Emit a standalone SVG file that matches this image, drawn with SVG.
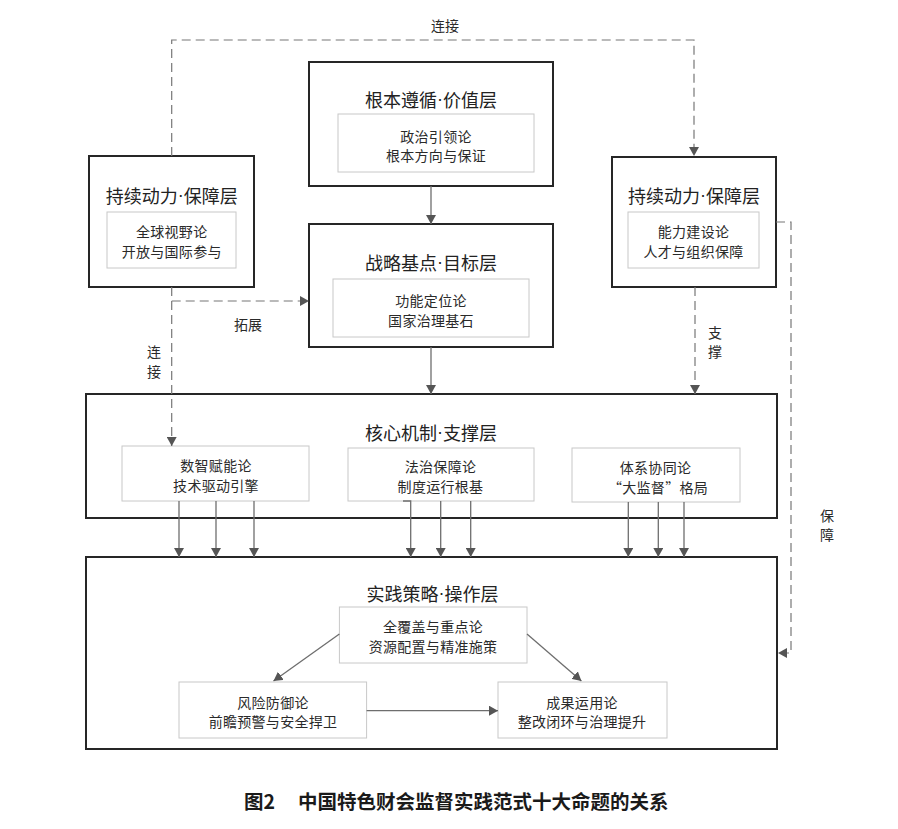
<svg xmlns="http://www.w3.org/2000/svg" width="898" height="829" viewBox="0 0 898 829">
<style>
text{font-family:"Noto Sans CJK SC","Noto Sans CJK TC",sans-serif;text-anchor:middle;dominant-baseline:central;fill:#222}
.dot{font-family:"Liberation Sans",Arial,sans-serif}
.outer{fill:#fff;stroke:#262626;stroke-width:2}
.inner{fill:#fff;stroke:#c8c8c8;stroke-width:1}
.title{font-size:18px}
.txt{font-size:14px;letter-spacing:0.3px;fill:#2a2a2a}
.lbl{font-size:14px;fill:#2a2a2a}
.conn{fill:none;stroke:#6e6e6e;stroke-width:1.3}
.dash{stroke-dasharray:9 5;stroke:#777;stroke-width:1.2}
.cap{font-size:19.5px;font-weight:bold;text-anchor:start;fill:#1a1a1a}
</style>
<defs>
<marker id="ah" viewBox="0 0 9 10" markerWidth="9" markerHeight="10" refX="9" refY="5" orient="auto" markerUnits="userSpaceOnUse">
<path d="M0,0 L9,5 L0,10 z" fill="#555"/>
</marker>
</defs>
<rect width="898" height="829" fill="#fff"/>

<g id="value-layer">
<rect class="outer" x="309" y="62" width="244" height="124"/>
<text class="title" x="431" y="99">根本遵循<tspan class="dot">·</tspan>价值层</text>
<rect class="inner" x="338" y="114" width="196" height="58"/>
<text class="txt" x="436" y="135.5">政治引领论</text>
<text class="txt" x="436" y="155">根本方向与保证</text>
</g>

<g id="target-layer">
<rect class="outer" x="309" y="224" width="244" height="123"/>
<text class="title" x="431" y="262">战略基点<tspan class="dot">·</tspan>目标层</text>
<rect class="inner" x="333" y="279" width="196" height="58"/>
<text class="txt" x="431" y="300">功能定位论</text>
<text class="txt" x="431" y="319.5">国家治理基石</text>
</g>

<g id="support-left">
<rect class="outer" x="89" y="156" width="165" height="131"/>
<text class="title" x="171.7" y="195">持续动力<tspan class="dot">·</tspan>保障层</text>
<rect class="inner" x="107" y="212" width="129" height="56"/>
<text class="txt" x="171.7" y="231">全球视野论</text>
<text class="txt" x="171.7" y="250.7">开放与国际参与</text>
</g>

<g id="support-right">
<rect class="outer" x="612" y="157" width="164" height="130"/>
<text class="title" x="694" y="195">持续动力<tspan class="dot">·</tspan>保障层</text>
<rect class="inner" x="628" y="212" width="131" height="56"/>
<text class="txt" x="693.5" y="231">能力建设论</text>
<text class="txt" x="693.5" y="250.7">人才与组织保障</text>
</g>

<g id="core-layer">
<rect class="outer" x="86" y="394" width="691" height="124"/>
<text class="title" x="431" y="431.5">核心机制<tspan class="dot">·</tspan>支撑层</text>
<rect class="inner" x="122" y="446" width="187" height="55"/>
<text class="txt" x="216" y="465">数智赋能论</text>
<text class="txt" x="216" y="485">技术驱动引擎</text>
<rect class="inner" x="348" y="448" width="186" height="53"/>
<text class="txt" x="440.5" y="466">法治保障论</text>
<text class="txt" x="440.5" y="486">制度运行根基</text>
<rect class="inner" x="572" y="448" width="168" height="54"/>
<text class="txt" x="655.5" y="467">体系协同论</text>
<text class="txt" x="658" y="487">“大监督”格局</text>
</g>

<g id="practice-layer">
<rect class="outer" x="86" y="557" width="691" height="192"/>
<text class="title" x="432.5" y="592.7">实践策略<tspan class="dot">·</tspan>操作层</text>
<rect class="inner" x="339.4" y="607" width="187.6" height="56"/>
<text class="txt" x="433" y="626">全覆盖与重点论</text>
<text class="txt" x="433" y="645.7">资源配置与精准施策</text>
<rect class="inner" x="179" y="682" width="187.6" height="56"/>
<text class="txt" x="273" y="701.7">风险防御论</text>
<text class="txt" x="273" y="720.7">前瞻预警与安全捍卫</text>
<rect class="inner" x="498" y="682" width="169" height="56"/>
<text class="txt" x="582" y="701.7">成果运用论</text>
<text class="txt" x="582" y="720.7">整改闭环与治理提升</text>
</g>

<g id="connectors">
<path class="conn" d="M431,186 V224" marker-end="url(#ah)"/>
<path class="conn" d="M431,347 V394" marker-end="url(#ah)"/>
<path class="conn dash" d="M171.7,156 V40 H694 V156" marker-end="url(#ah)"/>
<path class="conn dash" d="M171.7,287 V446" marker-end="url(#ah)"/>
<path class="conn dash" d="M171.7,301 H309" marker-end="url(#ah)"/>
<path class="conn dash" d="M695,287 V394" marker-end="url(#ah)"/>
<path class="conn dash" d="M776,222 H791 V653 H778" marker-end="url(#ah)"/>
<path class="conn" d="M179,501 V557" marker-end="url(#ah)"/>
<path class="conn" d="M216,501 V557" marker-end="url(#ah)"/>
<path class="conn" d="M254,501 V557" marker-end="url(#ah)"/>
<path class="conn" d="M403,501 H410.7 V557" marker-end="url(#ah)"/>
<path class="conn" d="M440.7,501 V557" marker-end="url(#ah)"/>
<path class="conn" d="M470.7,501 V557" marker-end="url(#ah)"/>
<path class="conn" d="M628.3,502 V557" marker-end="url(#ah)"/>
<path class="conn" d="M658.3,502 V557" marker-end="url(#ah)"/>
<path class="conn" d="M684,502 V557" marker-end="url(#ah)"/>
<path class="conn" d="M339.4,634 L273.5,681" marker-end="url(#ah)"/>
<path class="conn" d="M527,634 L581.4,681" marker-end="url(#ah)"/>
<path class="conn" d="M366.6,710.7 H498" marker-end="url(#ah)"/>
<text class="lbl" x="445" y="25">连接</text>
<text class="lbl" x="154" y="351">连</text>
<text class="lbl" x="154" y="371">接</text>
<text class="lbl" x="248" y="324">拓展</text>
<text class="lbl" x="715" y="332">支</text>
<text class="lbl" x="715" y="351">撑</text>
<text class="lbl" x="827" y="515">保</text>
<text class="lbl" x="827" y="534">障</text>
</g>

<g id="caption">
<text class="cap" x="244" y="800">图2<tspan x="298">中国特色财会监督实践范式十大命题的关系</tspan></text>
</g>
</svg>
